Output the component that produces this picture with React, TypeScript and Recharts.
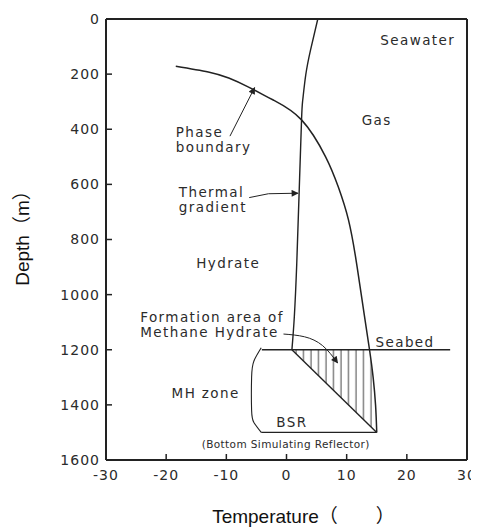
import { ComposedChart, Line, Area, XAxis, YAxis, ReferenceDot } from 'recharts';

// axes: temperature (°C) across, depth (m) downwards
const tempTicks = [-30, -20, -10, 0, 10, 20, 30];
const depthTicks = [0, 200, 400, 600, 800, 1000, 1200, 1400, 1600];
const innerTempTicks = [-20, -10, 0, 10, 20];
const innerDepthTicks = [200, 400, 600, 800, 1000, 1200, 1400];

// hydrate phase boundary
const phaseTemp = [-18.4, -13, -9.6, -6.3, -2.2, 2.5, 6.5, 8.6, 10.3, 11.6, 12.7, 13.8, 14.4, 14.8, 15];
const phaseDepth = [171, 192, 214, 247, 294, 366, 500, 609, 729, 880, 1040, 1200, 1300, 1400, 1500];

// thermal gradient in the water column
const waterTemp = [5.2, 4.0, 3.2, 2.7, 2.5, 2.1, 1.7, 1.3, 0.9];
const waterDepth = [0, 112, 203, 294, 366, 630, 890, 1080, 1200];

// geothermal gradient below the seabed
const sedimentTemp = [0.9, 15];
const sedimentDepth = [1200, 1500];

const seabedTemp = [-4.1, 27.2];
const seabedDepth = [1200, 1200];
const bsrTemp = [-4.2, 15];
const bsrDepth = [1500, 1500];

// bracket marking the MH zone
const bracketTemp = [-4.2, -5.4, -5.8, -5.8, -5.4, -4.2];
const bracketDepth = [1193, 1240, 1300, 1420, 1465, 1500];

// hatched formation area: geotherm (low) to phase boundary (high)
const zoneDepth = [1200, 1300, 1400, 1500];
const zoneLow = [0.9, 5.6, 10.3, 15];
const zoneHigh = [13.8, 14.4, 14.8, 15];

// annotation arrows
const phaseArrowTemp = [-9.4, -5.3];
const phaseArrowDepth = [425, 249];
const thermalArrowTemp = [-6.2, -3, 1.9];
const thermalArrowDepth = [648, 634, 632];
const formationArrowTemp = [-0.5, 3, 6, 8.5];
const formationArrowDepth = [1143, 1153, 1185, 1248];

const notes = [
  { lines: ['Seawater'], t: 15.6, d: 94 },
  { lines: ['Gas'], t: 12.5, d: 385 },
  { lines: ['Phase', 'boundary'], t: -18.4, d: 428 },
  { lines: ['Thermal', 'gradient'], t: -17.9, d: 646 },
  { lines: ['Hydrate'], t: -15.0, d: 903 },
  { lines: ['Formation area of', 'Methane Hydrate'], t: -24.3, d: 1099 },
  { lines: ['Seabed'], t: 14.8, d: 1190 },
  { lines: ['MH zone'], t: -19.1, d: 1375 },
  { lines: ['BSR'], t: -1.7, d: 1480 },
  { lines: ['(Bottom Simulating Reflector)'], t: -14.1, d: 1557, small: true },
];

const pts = (ts: number[], ds: number[]) => ts.map((t, i) => ({ t, d: ds[i] }));
const zoneRows = zoneDepth.map((d, i) => ({ d, range: [zoneLow[i], zoneHigh[i]] }));

const INK = '#222';
const TEXT = '#2b2b2b';
const noteFont = '"DejaVu Sans", Verdana, sans-serif';
const titleFont = '"Liberation Sans", Arial, "Noto Sans CJK SC", sans-serif';

const Note = ({ cx, cy, note }: any) => {
  const size = note.small ? 10.5 : 13.5;
  const lh = note.small ? 12 : 15;
  return (
    <text
      x={cx}
      y={cy}
      fill={TEXT}
      fontSize={size}
      fontFamily={noteFont}
      letterSpacing={note.small ? 0.4 : 1.4}
    >
      {note.lines.map((l: string, i: number) => (
        <tspan key={i} x={cx} dy={i === 0 ? 0 : lh}>
          {l}
        </tspan>
      ))}
    </text>
  );
};

const DepthTitle = (props: any) => {
  const { x, y, height } = props.viewBox;
  const cx = x + 14;
  const cy = y + height / 2 - 6;
  return (
    <text
      x={cx}
      y={cy}
      transform={`rotate(-90 ${cx} ${cy})`}
      textAnchor="middle"
      dominantBaseline="central"
      fontSize={19}
      fontFamily={titleFont}
      fill="#111"
    >
      Depth（m）
    </text>
  );
};

const TempTitle = (props: any) => {
  const { x, width } = props.viewBox;
  return (
    <text x={x + width / 2 + 17} y={515} textAnchor="middle" fontSize={19} fontFamily={titleFont} fill="#111">
      Temperature（　　）
    </text>
  );
};

const tickStyle = { fill: TEXT, fontSize: 14, fontFamily: noteFont, letterSpacing: 1 };

export default function App() {
  const line = (data: { t: number; d: number }[], key: string, extra: any = {}) => (
    <Line
      key={key}
      data={data}
      dataKey="t"
      xAxisId="b"
      yAxisId="l"
      stroke={INK}
      strokeWidth={1.4}
      dot={false}
      activeDot={false}
      isAnimationActive={false}
      type="linear"
      {...extra}
    />
  );

  return (
    <ComposedChart width={471} height={521} layout="vertical" margin={{ top: 10, right: 11, bottom: 0, left: 0 }}>
      <defs>
        <marker
          id="arrowHead"
          viewBox="0 0 10 10"
          refX="9"
          refY="5"
          markerWidth="9"
          markerHeight="7"
          markerUnits="userSpaceOnUse"
          orient="auto"
        >
          <path d="M0,0L10,5L0,10z" fill={INK} />
        </marker>
        <pattern id="hatch" width="7.5" height="10" patternUnits="userSpaceOnUse">
          <line x1="3" y1="0" x2="3" y2="10" stroke="#555" strokeWidth={1.1} />
        </pattern>
      </defs>
      <XAxis
        xAxisId="b"
        type="number"
        domain={[-30, 30]}
        ticks={tempTicks}
        height={69}
        tickSize={-6}
        tickMargin={16}
        tick={tickStyle}
        axisLine={{ stroke: INK, strokeWidth: 2 }}
        tickLine={{ stroke: INK, strokeWidth: 1.5 }}
        label={(p: any) => <TempTitle {...p} />}
      />
      <XAxis
        xAxisId="t"
        orientation="top"
        type="number"
        domain={[-30, 30]}
        ticks={innerTempTicks}
        height={1}
        tickSize={-6}
        tick={false}
        axisLine={{ stroke: INK, strokeWidth: 2 }}
        tickLine={{ stroke: INK, strokeWidth: 1.5 }}
      />
      <YAxis
        yAxisId="l"
        type="number"
        dataKey="d"
        domain={[0, 1600]}
        ticks={depthTicks}
        width={98}
        tickSize={-6}
        tickMargin={12}
        tick={tickStyle}
        axisLine={{ stroke: INK, strokeWidth: 2 }}
        tickLine={{ stroke: INK, strokeWidth: 1.5 }}
        label={(p: any) => <DepthTitle {...p} />}
      />
      <YAxis
        yAxisId="r"
        orientation="right"
        type="number"
        domain={[0, 1600]}
        ticks={innerDepthTicks}
        width={1}
        tickSize={-6}
        tick={false}
        axisLine={{ stroke: INK, strokeWidth: 2 }}
        tickLine={{ stroke: INK, strokeWidth: 1.5 }}
      />

      <Area
        data={zoneRows}
        dataKey="range"
        xAxisId="b"
        yAxisId="l"
        type="linear"
        stroke="none"
        fill="url(#hatch)"
        fillOpacity={1}
        dot={false}
        activeDot={false}
        isAnimationActive={false}
      />

      {line(pts(phaseTemp, phaseDepth), 'phase', { type: 'natural', strokeWidth: 1.5 })}
      {line(pts(waterTemp, waterDepth), 'water', { type: 'natural' })}
      {line(pts(sedimentTemp, sedimentDepth), 'sediment')}
      {line(pts(seabedTemp, seabedDepth), 'seabed', { strokeWidth: 1.3 })}
      {line(pts(bsrTemp, bsrDepth), 'bsr', { strokeWidth: 1.3 })}
      {line(pts(bracketTemp, bracketDepth), 'bracket', { type: 'natural', strokeWidth: 1.1 })}
      {line(pts(phaseArrowTemp, phaseArrowDepth), 'phaseArrow', { strokeWidth: 1, markerEnd: 'url(#arrowHead)' })}
      {line(pts(thermalArrowTemp, thermalArrowDepth), 'thermalArrow', { strokeWidth: 1, markerEnd: 'url(#arrowHead)' })}
      {line(pts(formationArrowTemp, formationArrowDepth), 'formationArrow', {
        type: 'natural',
        strokeWidth: 1,
        markerEnd: 'url(#arrowHead)',
      })}

      {notes.map((n, i) => (
        <ReferenceDot
          key={i}
          x={n.t}
          y={n.d}
          r={0}
          xAxisId="b"
          yAxisId="l"
          shape={(p: any) => <Note cx={p.cx} cy={p.cy} note={n} />}
        />
      ))}
    </ComposedChart>
  );
}
